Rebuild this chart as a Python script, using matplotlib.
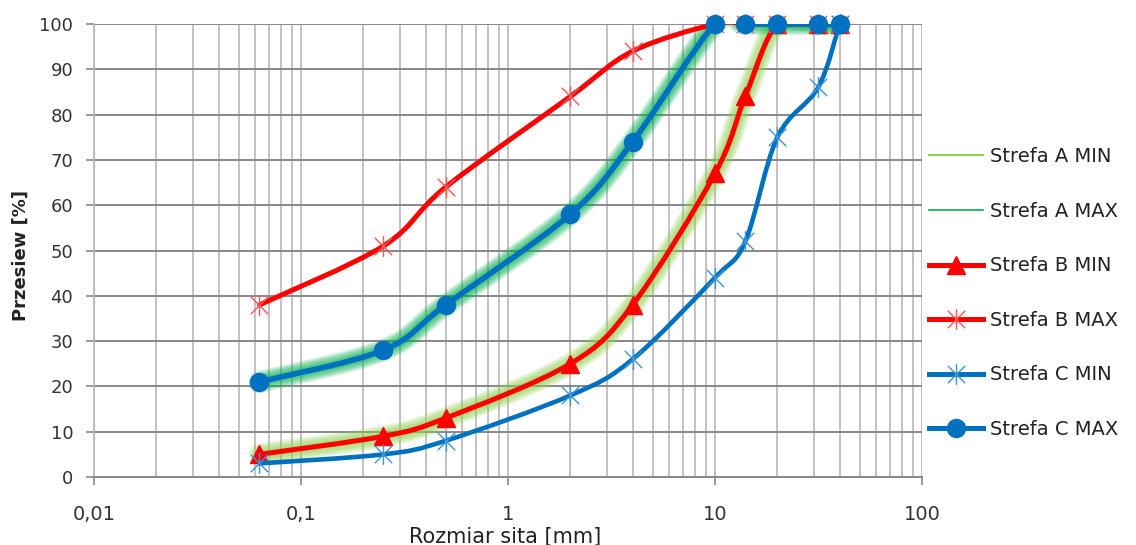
import numpy as np
import matplotlib
matplotlib.use('Agg')
import matplotlib.pyplot as plt
from matplotlib.path import Path
from matplotlib.patches import PathPatch
from matplotlib.lines import Line2D
from matplotlib.ticker import LogLocator, NullFormatter

# rozmiar sita [mm]
sieves = [0.063, 0.25, 0.5, 2, 4, 10, 14, 20, 31.5, 40]

# przesiew [%]
a_min = [5, 9, 13, 25, 38, 67, 84, 100, 100, 100]
a_max = [21, 28, 38, 58, 74, 100, 100, 100, 100, 100]
b_min = [5, 9, 13, 25, 38, 67, 84, 100, 100, 100]
b_max = [38, 51, 64, 84, 94, 100, 100, 100, 100, 100]
c_min = [3, 5, 8, 18, 26, 44, 52, 75, 86, 100]
c_max = [21, 28, 38, 58, 74, 100, 100, 100, 100, 100]

labels = ['Strefa A MIN', 'Strefa A MAX', 'Strefa B MIN',
          'Strefa B MAX', 'Strefa C MIN', 'Strefa C MAX']

xticks = [0.01, 0.1, 1, 10, 100]
xtick_labels = ['0,01', '0,1', '1', '10', '100']
yticks = list(range(0, 101, 10))

RED = '#FF0000'
RED_LT = '#FF5555'
BLUE = '#0070C0'
BLUE_LT = '#3C94D8'
GREEN_LT = '#92D050'
GREEN = '#00B050'
GRID_H = '#888888'
GRID_V = '#B8B8B8'

# gwiazdka jak w Excelu: krzyzyk + pionowa kreska
STAR = Path([(-1, -1), (1, 1), (-1, 1), (1, -1), (0, -1.2), (0, 1.2)],
            [Path.MOVETO, Path.LINETO] * 3)


def smooth_path(xs, ys):
    """Wygladzona linia (Bezier) w przestrzeni log10(x)."""
    u = np.log10(np.asarray(xs, float))
    y = np.asarray(ys, float)
    n = len(u)
    verts = [(u[0], y[0])]
    codes = [Path.MOVETO]
    for i in range(n - 1):
        i0 = max(i - 1, 0)
        i3 = min(i + 2, n - 1)
        c1 = (u[i] + (u[i + 1] - u[i0]) / 6, y[i] + (y[i + 1] - y[i0]) / 6)
        c2 = (u[i + 1] - (u[i3] - u[i]) / 6, y[i + 1] - (y[i3] - y[i]) / 6)
        verts += [c1, c2, (u[i + 1], y[i + 1])]
        codes += [Path.CURVE4] * 3
    verts = np.array(verts)
    verts[:, 0] = 10 ** verts[:, 0]
    return Path(verts, codes)


def draw_line(ax, xs, ys, color, lw, alpha=1.0, z=3):
    p = PathPatch(smooth_path(xs, ys), fill=False, edgecolor=color, lw=lw,
                  alpha=alpha, capstyle='round', joinstyle='round', zorder=z)
    ax.add_patch(p)


def draw_glow(ax, xs, ys, color):
    for w in np.linspace(16, 4, 7):
        draw_line(ax, xs, ys, color, w, alpha=0.17, z=2)
    draw_line(ax, xs, ys, color, 1.2, z=2)


fig = plt.figure(figsize=(11.36, 5.45), dpi=100)
ax = fig.add_axes([94 / 1136, 68 / 545, 828 / 1136, 453 / 545])

ax.set_xscale('log')
ax.set_xlim(0.01, 100)
ax.set_ylim(0, 100)

# strefa A - poswiata pod liniami
draw_glow(ax, sieves, a_min, GREEN_LT)
draw_glow(ax, sieves, a_max, GREEN)

# strefa B
draw_line(ax, sieves, b_min, RED, 3.6, z=4)
ax.plot(sieves, b_min, ls='none', marker='^', ms=13, color=RED,
        clip_on=False, zorder=5)
draw_line(ax, sieves, b_max, RED, 3.6, z=4)
ax.plot(sieves, b_max, ls='none', marker=STAR, ms=15, mew=1.0,
        color=RED_LT, clip_on=False, zorder=5)

# strefa C
draw_line(ax, sieves, c_min, BLUE, 3.3, z=6)
ax.plot(sieves, c_min, ls='none', marker=STAR, ms=15, mew=1.0,
        color=BLUE_LT, clip_on=False, zorder=7)
draw_line(ax, sieves, c_max, BLUE, 4.0, z=6)
ax.plot(sieves, c_max, ls='none', marker='o', ms=13, color=BLUE,
        clip_on=False, zorder=7)

# osie i siatka
ax.set_xticks(xticks)
ax.set_xticklabels(xtick_labels)
ax.xaxis.set_minor_locator(LogLocator(base=10, subs=np.arange(2, 10)))
ax.xaxis.set_minor_formatter(NullFormatter())
ax.set_yticks(yticks)

ax.grid(True, axis='y', which='major', color=GRID_H, lw=1.4, zorder=0)
ax.grid(True, axis='x', which='both', color=GRID_V, lw=1.2, zorder=0)
ax.set_axisbelow(True)

for s in ('top', 'right'):
    ax.spines[s].set_visible(False)
ax.spines['left'].set_color(GRID_V)
ax.spines['bottom'].set_color(GRID_H)
ax.spines['left'].set_linewidth(1.2)
ax.spines['bottom'].set_linewidth(1.4)

ax.tick_params(axis='y', which='major', length=6, color=GRID_H, width=1.2,
               pad=9, labelsize=13, labelcolor='#333333')
ax.tick_params(axis='x', which='major', length=6, color=GRID_H, width=1.2,
               pad=14, labelsize=14, labelcolor='#333333')
ax.tick_params(axis='x', which='minor', length=0)

ax.set_ylabel('Przesiew [%]', fontsize=13, fontweight='bold', color='#222222')
ax.yaxis.set_label_coords(-0.077, 0.49)
ax.set_xlabel('Rozmiar sita [mm]', fontsize=15, color='#222222')
ax.xaxis.set_label_coords(0.496, -0.11)

# legenda
handles = [
    Line2D([], [], color=GREEN_LT, lw=1.5),
    Line2D([], [], color=GREEN, lw=1.2),
    Line2D([], [], color=RED, lw=3.6, marker='^', ms=13),
    Line2D([], [], color=RED, lw=3.6, marker=STAR, ms=15, mew=1.0,
           mec=RED_LT),
    Line2D([], [], color=BLUE, lw=3.6, marker=STAR, ms=15, mew=1.0,
           mec=BLUE_LT),
    Line2D([], [], color=BLUE, lw=3.6, marker='o', ms=13),
]
fig.legend(handles, labels, loc='upper left', bbox_to_anchor=(0.818, 0.73),
           frameon=False, fontsize=14, handlelength=2.75, handletextpad=0.35,
           labelspacing=1.83, borderpad=0, borderaxespad=0,
           labelcolor='#222222')

fig.savefig('out.png', dpi=100)
